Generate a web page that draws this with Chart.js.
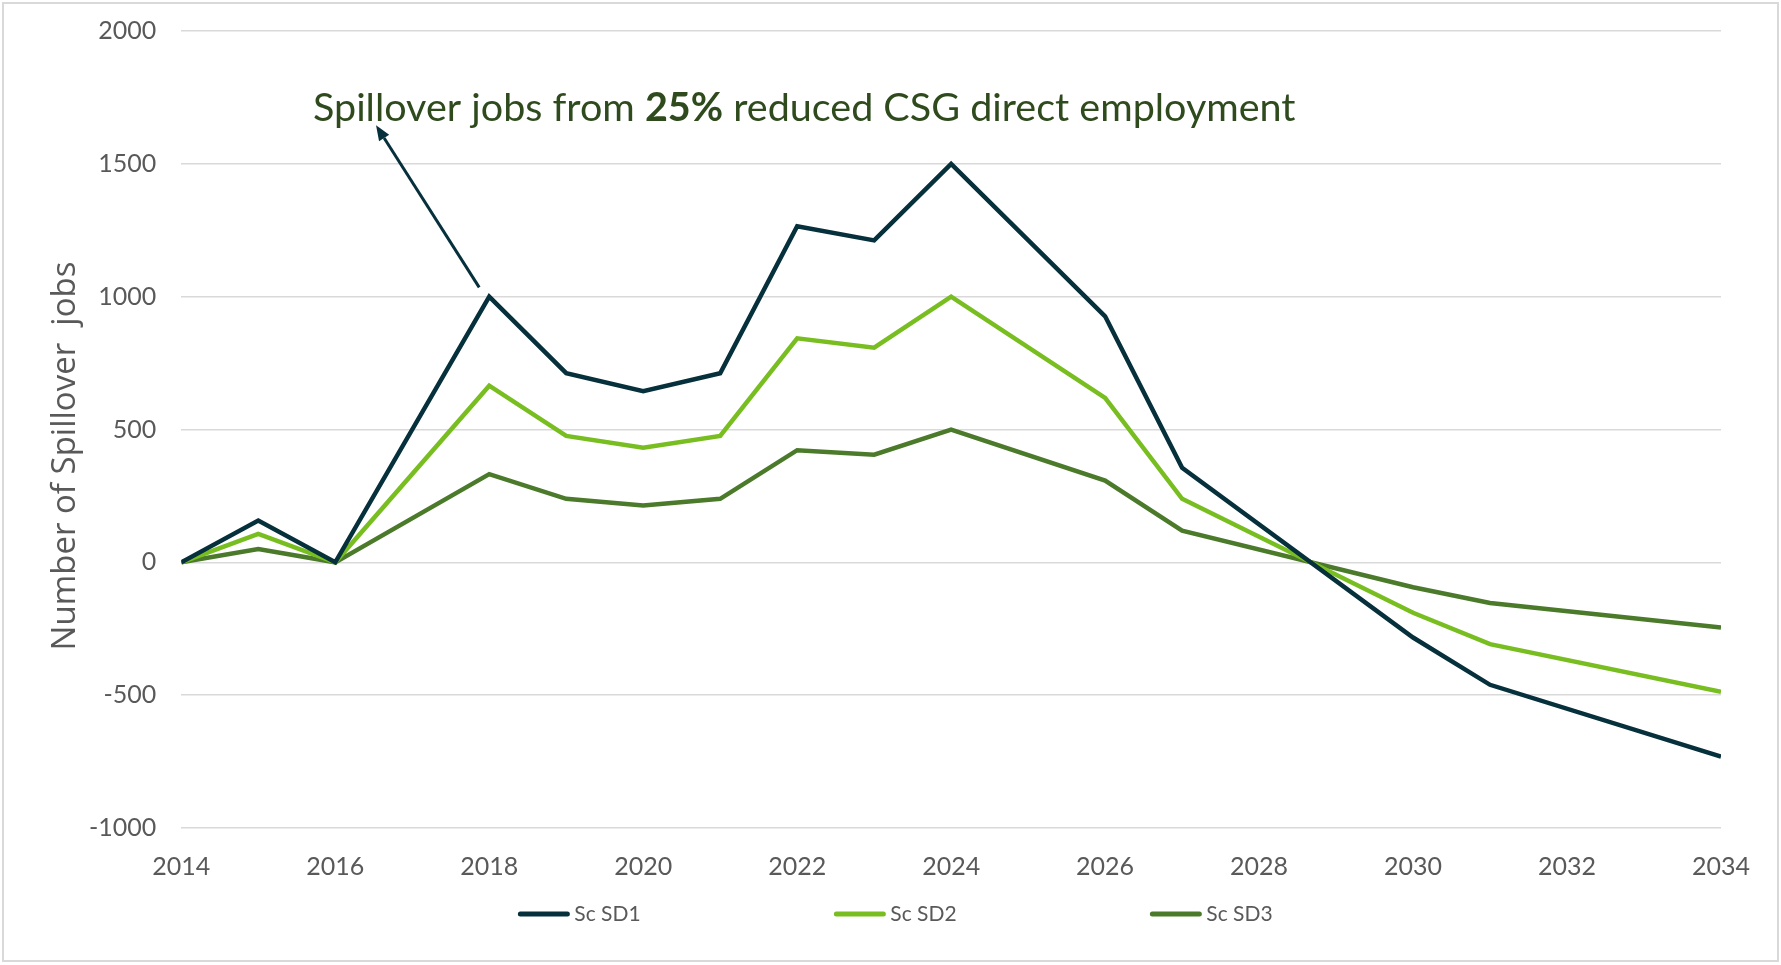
<!DOCTYPE html>
<html>
<head>
<meta charset="utf-8">
<script src="https://cdn.jsdelivr.net/npm/chart.js@4.4.1/dist/chart.umd.min.js"></script>
<style>
  html, body { margin: 0; padding: 0; background: #ffffff; }
  #wrap { width: 1781px; height: 965px; position: relative; }
</style>
</head>
<body>
<div id="wrap"><canvas id="chart"></canvas></div>
<script>
// Spillover jobs by year for the three reduced-employment scenarios
const years = [2014, 2015, 2016, 2018, 2019, 2020, 2021, 2022, 2023, 2024, 2026, 2027, 2030, 2031, 2034];
const scSD1 = [0, 157, 0, 1000, 712, 644, 712, 1265, 1212, 1500, 926, 356, -283, -461, -731];
const scSD2 = [0, 107, 0, 665, 476, 431, 476, 843, 808, 1000, 619, 239, -190, -308, -487];
const scSD3 = [0, 50, 0, 332, 239, 214, 239, 422, 405, 500, 308, 119, -94, -153, -245];
const seriesNames = ['Sc SD1', 'Sc SD2', 'Sc SD3'];
const seriesColors = ['#06303c', '#78be21', '#4b7a2b'];

// Axis ranges and tick steps
const xRange = [2014, 2034];
const xStep = 2;
const yRange = [-1000, 2000];
const yStep = 500;

const yTitle = 'Number of Spillover  jobs';
const noteParts = [
  { text: 'Spillover jobs from ', bold: false },
  { text: '25%', bold: true },
  { text: ' reduced CSG direct employment', bold: false }
];

const TICK_FONT = 'Lato';
const toPoints = (vals) => years.map((y, i) => ({ x: y, y: vals[i] }));

const datasets = [scSD1, scSD2, scSD3].map((vals, i) => ({
  label: seriesNames[i],
  data: toPoints(vals),
  borderColor: seriesColors[i],
  backgroundColor: seriesColors[i],
  borderWidth: 4.5,
  pointRadius: 0,
  tension: 0,
  borderJoinStyle: 'miter',
  fill: false
}));

// White background, thin light frame and the rotated y-axis title
const framePlugin = {
  id: 'frame',
  beforeDraw(chart) {
    const { ctx, width, height } = chart;
    ctx.save();
    ctx.fillStyle = '#ffffff';
    ctx.fillRect(0, 0, width, height);
    ctx.strokeStyle = '#d9d9d9';
    ctx.lineWidth = 2;
    ctx.strokeRect(3, 3, width - 6, height - 7);
    ctx.restore();
  },
  afterDraw(chart) {
    const { ctx } = chart;
    ctx.save();
    ctx.translate(66, 456);
    ctx.rotate(-Math.PI / 2);
    ctx.font = '33px "Open Sans"';
    ctx.fillStyle = '#595959';
    ctx.textAlign = 'center';
    ctx.textBaseline = 'middle';
    ctx.fillText(yTitle, 0, 0);
    ctx.restore();
  }
};

// Headline note with an arrow pointing at the 2018 peak
const notePlugin = {
  id: 'note',
  afterDraw(chart) {
    const { ctx, scales: { x, y } } = chart;
    ctx.save();
    // arrow
    const x0 = x.getPixelForValue(2017.87), y0 = y.getPixelForValue(1035);
    const x1 = x.getPixelForValue(2016.53), y1 = y.getPixelForValue(1645);
    ctx.strokeStyle = '#06303c';
    ctx.fillStyle = '#06303c';
    ctx.lineWidth = 3;
    const ang = Math.atan2(y1 - y0, x1 - x0);
    const headLen = 15, headW = 6;
    const bx = x1 - headLen * Math.cos(ang), by = y1 - headLen * Math.sin(ang);
    ctx.beginPath();
    ctx.moveTo(x0, y0);
    ctx.lineTo(bx, by);
    ctx.stroke();
    ctx.beginPath();
    ctx.moveTo(x1, y1);
    ctx.lineTo(bx + headW * Math.sin(ang), by - headW * Math.cos(ang));
    ctx.lineTo(bx - headW * Math.sin(ang), by + headW * Math.cos(ang));
    ctx.closePath();
    ctx.fill();
    // text
    let tx = 313;
    const ty = 121;
    ctx.fillStyle = '#2f4b1e';
    ctx.textBaseline = 'alphabetic';
    ctx.textAlign = 'left';
    noteParts.forEach(p => {
      ctx.font = (p.bold ? 'bold ' : '') + '39.5px ' + TICK_FONT;
      ctx.fillText(p.text, tx, ty);
      tx += ctx.measureText(p.text).width;
    });
    ctx.restore();
  }
};

// Legend row of short line swatches below the x axis
const legendRowPlugin = {
  id: 'legendRow',
  afterDraw(chart) {
    const { ctx, width } = chart;
    const sets = chart.data.datasets;
    const swatch = 51, gap = 5, spacing = 316, cy = 914;
    ctx.save();
    ctx.font = '21px ' + TICK_FONT;
    const lastW = swatch + gap + ctx.measureText(sets[sets.length - 1].label).width;
    let sx = (width - ((sets.length - 1) * spacing + lastW)) / 2 + 5;
    sets.forEach((ds, i) => {
      const lx = sx + i * spacing;
      ctx.strokeStyle = ds.borderColor;
      ctx.lineWidth = 5;
      ctx.lineCap = 'round';
      ctx.beginPath();
      ctx.moveTo(lx + 2, cy);
      ctx.lineTo(lx + swatch - 2, cy);
      ctx.stroke();
      ctx.fillStyle = '#595959';
      ctx.textBaseline = 'middle';
      ctx.textAlign = 'left';
      ctx.fillText(ds.label, lx + swatch + gap, cy);
    });
    ctx.restore();
  }
};

new Chart(document.getElementById('chart'), {
  type: 'line',
  data: { datasets },
  options: {
    responsive: true,
    maintainAspectRatio: false,
    animation: false,
    layout: { padding: { left: 64, right: 60, top: 31, bottom: 59 } },
    plugins: {
      legend: { display: false },
      tooltip: { enabled: false }
    },
    scales: {
      x: {
        type: 'linear',
        min: xRange[0],
        max: xRange[1],
        grid: { display: false, drawTicks: false },
        border: { display: false },
        ticks: {
          stepSize: xStep,
          padding: 24,
          color: '#595959',
          font: { family: TICK_FONT, size: 25 },
          maxRotation: 0,
          callback: v => String(v)
        }
      },
      y: {
        min: yRange[0],
        max: yRange[1],
        grid: { color: '#d9d9d9', lineWidth: 1.5, drawTicks: false },
        border: { display: false },
        afterFit(scale) { scale.paddingTop = 0; },
        ticks: {
          stepSize: yStep,
          padding: 25,
          color: '#595959',
          font: { family: TICK_FONT, size: 25 },
          callback: v => String(v)
        }
      }
    }
  },
  plugins: [framePlugin, notePlugin, legendRowPlugin]
});
</script>
</body>
</html>
